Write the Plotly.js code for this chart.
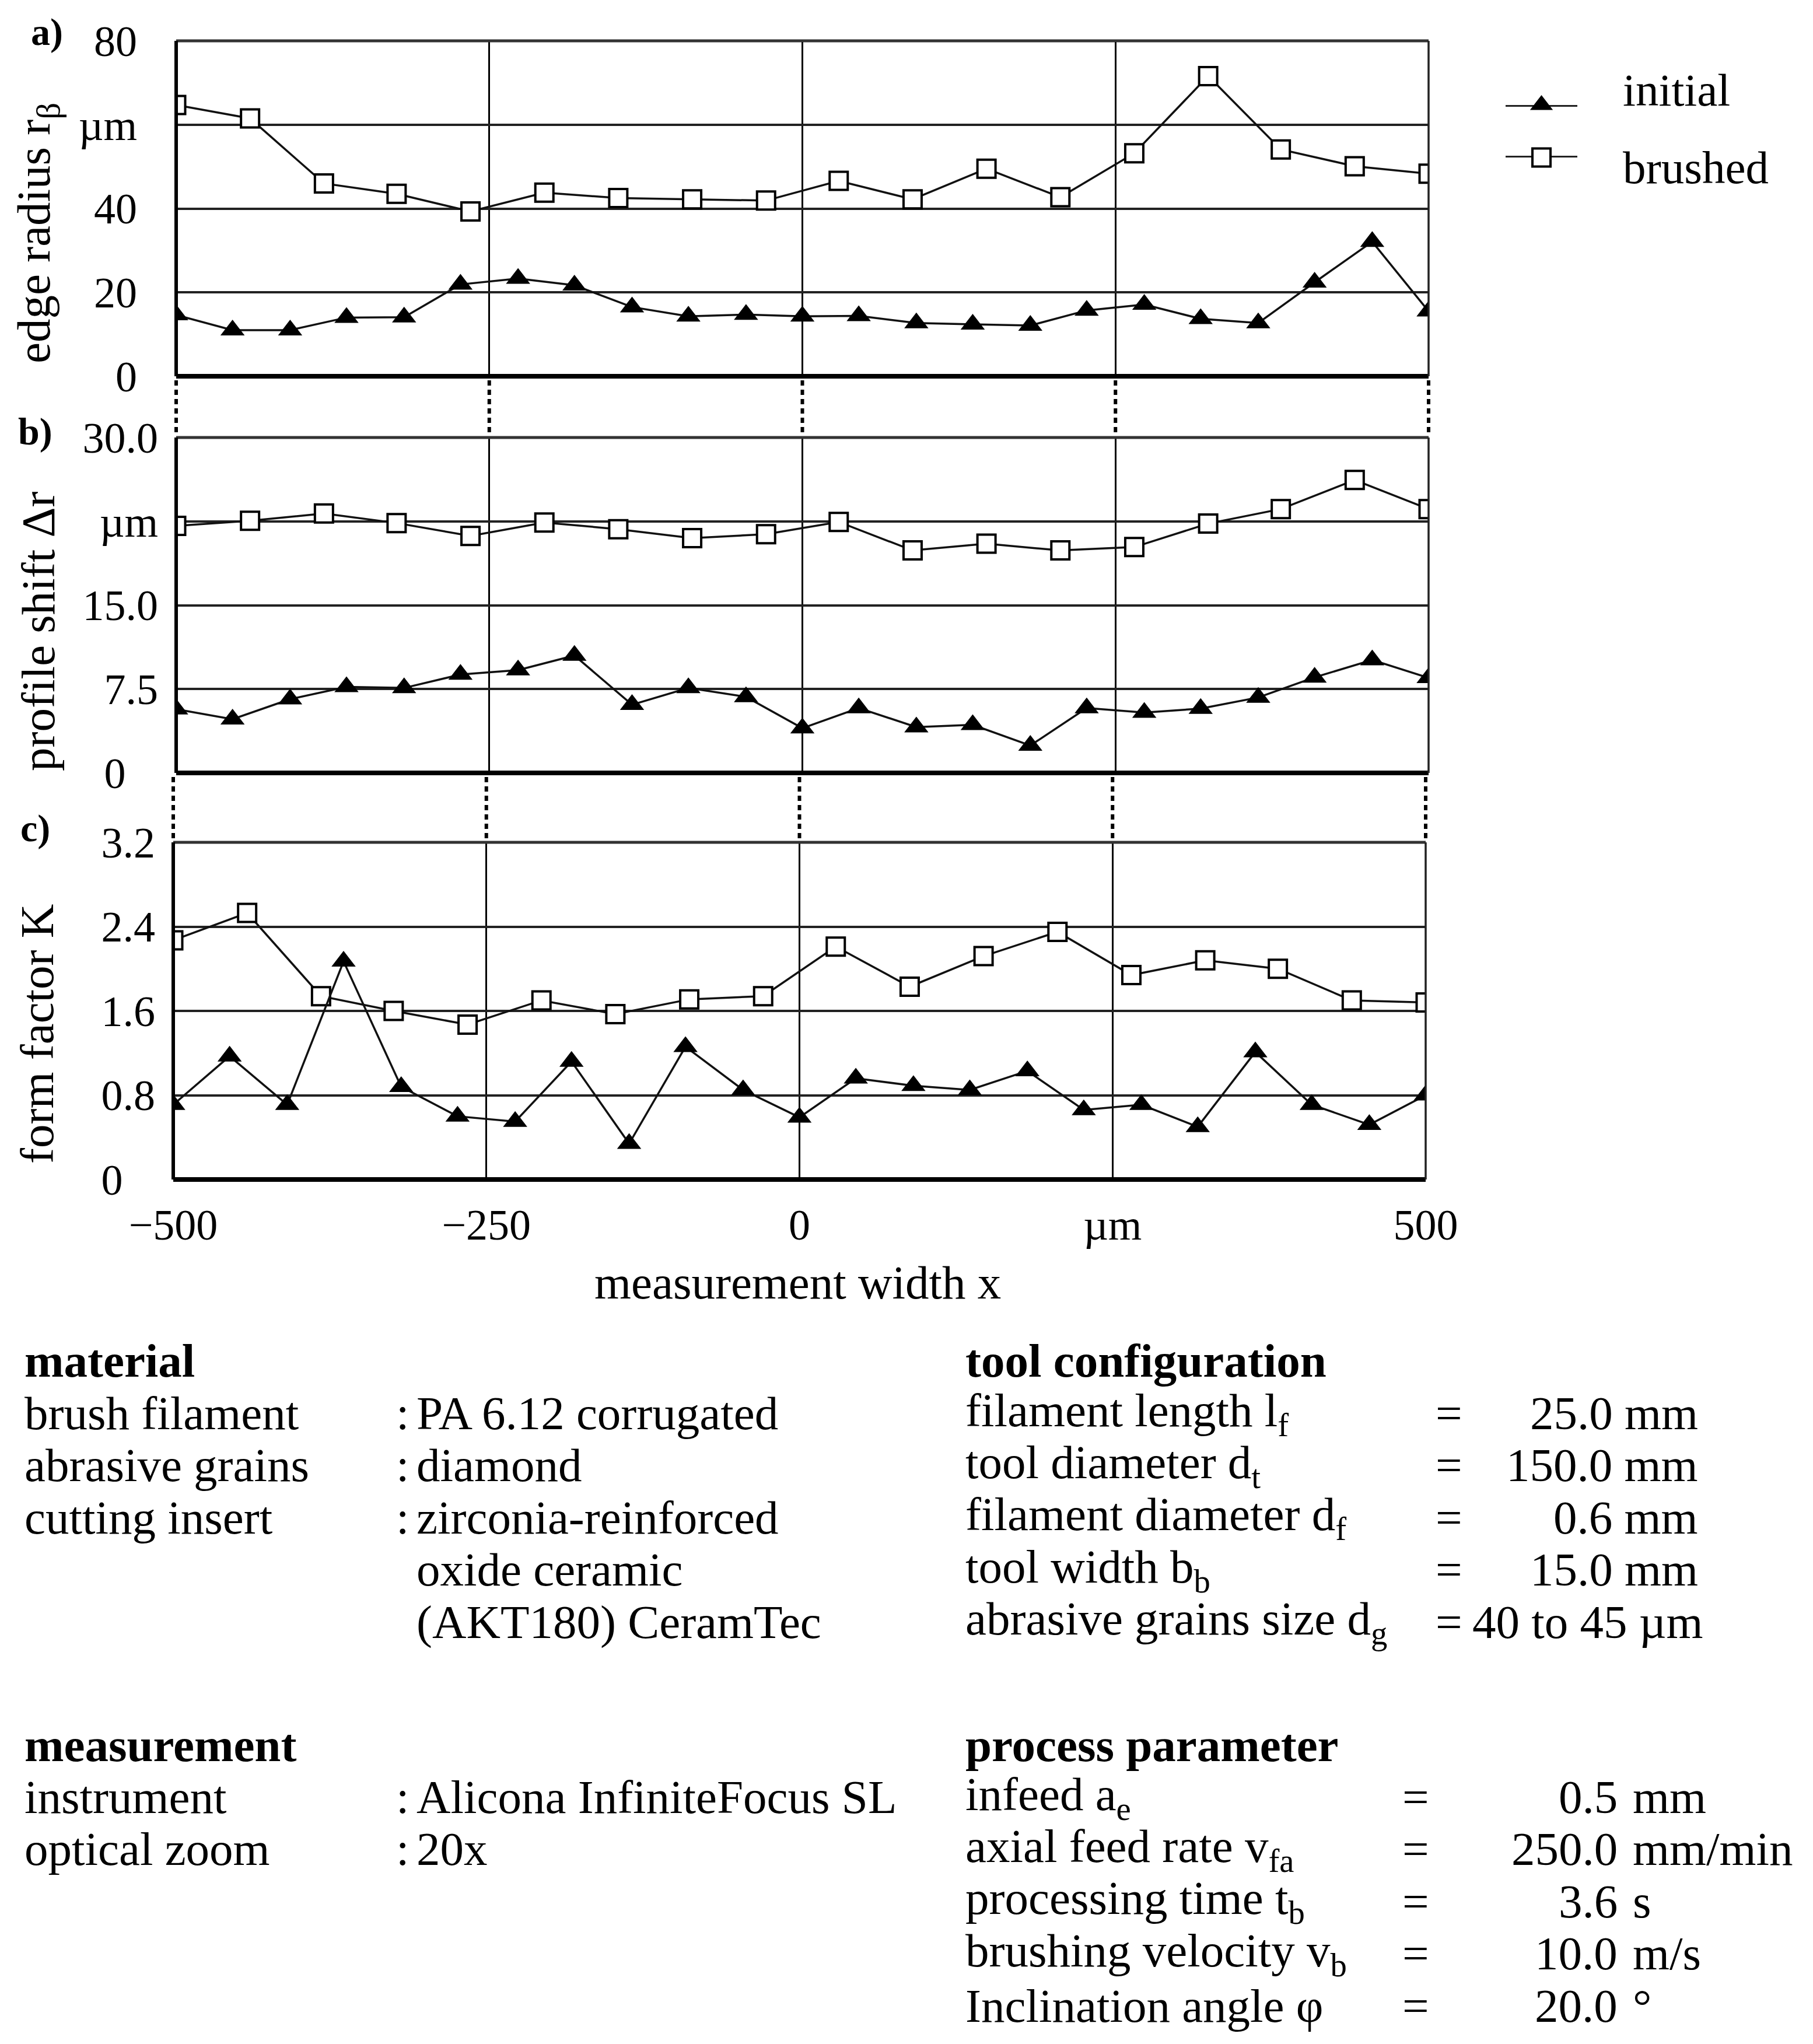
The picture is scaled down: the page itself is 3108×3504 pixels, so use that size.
<!DOCTYPE html>
<html>
<head>
<meta charset="utf-8">
<script src="https://cdn.plot.ly/plotly-3.0.1.min.js"></script>
<style>
  html, body { margin: 0; padding: 0; background: #fff; }
  #chart { width: 3108px; height: 3504px; }
</style>
</head>
<body>
<div id="chart"></div>
<script>
const xInitial = [-500, -455, -409, -364, -318, -273, -227, -182, -136, -91, -45, 0, 45, 91, 136, 182, 227, 273, 318, 364, 409, 455, 500];
const xBrushed = [-500, -441, -382, -324, -265, -206, -147, -88, -29, 29, 88, 147, 206, 265, 324, 382, 441, 500];

// a) edge radius r_beta (µm)
const edgeInitial = [14.6, 11.0, 11.0, 14.0, 14.1, 21.9, 23.3, 21.7, 16.5, 14.3, 14.7, 14.3, 14.4, 12.7, 12.4, 12.1, 15.7, 17.1, 13.7, 12.7, 22.4, 32.1, 15.5];
const edgeBrushed = [64.7, 61.5, 46.0, 43.5, 39.3, 43.8, 42.5, 42.2, 41.9, 46.6, 42.2, 49.5, 42.7, 53.2, 71.6, 54.1, 50.1, 48.3];

// b) profile shift delta r (µm)
const shiftInitial = [5.7, 4.8, 6.6, 7.7, 7.6, 8.8, 9.2, 10.5, 6.1, 7.6, 6.8, 4.0, 5.8, 4.1, 4.3, 2.45, 5.8, 5.4, 5.75, 6.75, 8.55, 10.1, 8.5];
const shiftBrushed = [22.1, 22.55, 23.2, 22.35, 21.2, 22.4, 21.8, 21.0, 21.35, 22.45, 19.9, 20.5, 19.9, 20.2, 22.3, 23.6, 26.2, 23.6];

// c) form factor K
const formInitial = [0.71, 1.17, 0.71, 2.07, 0.88, 0.60, 0.55, 1.12, 0.34, 1.26, 0.85, 0.59, 0.96, 0.89, 0.85, 1.03, 0.66, 0.71, 0.50, 1.21, 0.71, 0.52, 0.80];
const formBrushed = [2.27, 2.53, 1.74, 1.60, 1.47, 1.70, 1.57, 1.71, 1.74, 2.21, 1.83, 2.12, 2.35, 1.94, 2.08, 2.00, 1.70, 1.68];

// axis ticks
const xTickVals = [-500, -250, 0, 250, 500];
const xTickText = ["\u2212500", "\u2212250", "0", "µm", "500"];
const edgeTickVals = [0, 20, 40, 60, 80];
const edgeTickText = ["0", "20", "40", "µm", "80"];
const shiftTickVals = [0, 7.5, 15, 22.5, 30];
const shiftTickText = ["0\u00a0\u00a0\u00a0", "7.5", "15.0", "µm", "30.0"];
const formTickVals = [0, 0.8, 1.6, 2.4, 3.2];
const formTickText = ["0\u00a0\u00a0\u00a0", "0.8", "1.6", "2.4", "3.2"];

const panelLabels = ["a)", "b)", "c)"];
const yTitles = ["edge radius r<sub>β</sub>", "profile shift Δr", "form factor K"];
const seriesNames = ["initial", "brushed"];

// parameter tables
const materialLabels = ["brush filament", "abrasive grains", "cutting insert", "", ""];
const materialValues = ["PA 6.12 corrugated", "diamond", "zirconia-reinforced", "oxide ceramic", "(AKT180) CeramTec"];
const toolLabels = ["filament length l<sub>f</sub>", "tool diameter d<sub>t</sub>", "filament diameter d<sub>f</sub>", "tool width b<sub>b</sub>", "abrasive grains size d<sub>g</sub>"];
const toolValues = ["25.0 mm", "150.0 mm", "0.6 mm", "15.0 mm", "40 to 45 µm"];
const measLabels = ["instrument", "optical zoom"];
const measValues = ["Alicona InfiniteFocus SL", "20x"];
const procLabels = ["infeed a<sub>e</sub>", "axial feed rate v<sub>fa</sub>", "processing time t<sub>b</sub>", "brushing velocity v<sub>b</sub>", "Inclination angle φ"];
const procNumbers = ["0.5", "250.0", "3.6", "10.0", "20.0"];
const procUnits = ["mm", "mm/min", "s", "m/s", "°"];

// ---- layout helpers (pixel -> paper) ----
const W = 3108, H = 3504;
const px = v => v / W;
const py = v => 1 - v / H;
const FONT = "'Liberation Serif', 'DejaVu Serif', serif";
const X_RANGE = [-500, 500];

const panels = [
  { xa: "x", ya: "y", left: 302, right: 2449, top: 70, bottom: 645, init: edgeInitial, brush: edgeBrushed,
    range: [0, 80], tv: edgeTickVals, tt: edgeTickText, standoff: 66, labelPos: [80, 55], titlePos: [64, 400] },
  { xa: "x2", ya: "y2", left: 302, right: 2449, top: 750, bottom: 1325, init: shiftInitial, brush: shiftBrushed,
    range: [0, 30], tv: shiftTickVals, tt: shiftTickText, standoff: 30, labelPos: [60, 740], titlePos: [66, 1082] },
  { xa: "x3", ya: "y3", left: 297, right: 2444, top: 1444, bottom: 2022, init: formInitial, brush: formBrushed,
    range: [0, 3.2], tv: formTickVals, tt: formTickText, standoff: 30, labelPos: [60, 1420], titlePos: [64, 1773] }
];

const traces = [];
const layout = {
  width: W, height: H,
  margin: { l: 0, r: 0, t: 0, b: 0 },
  paper_bgcolor: "#fff", plot_bgcolor: "#fff",
  showlegend: false,
  font: { family: FONT, color: "#000", size: 78 },
  shapes: [], annotations: []
};

panels.forEach((p, i) => {
  const n = i === 0 ? "" : String(i + 1);
  layout["xaxis" + n] = {
    domain: [px(p.left), px(p.right)], anchor: p.ya, range: X_RANGE,
    tickmode: "array", tickvals: xTickVals, ticktext: xTickText,
    showgrid: true, gridcolor: "#000", gridwidth: 3, zeroline: false, showline: false,
    ticks: "", ticklen: 0, showticklabels: i === 2, ticklabelstandoff: 28,
    tickfont: { family: FONT, size: 74, color: "#000" }, fixedrange: true
  };
  layout["yaxis" + n] = {
    domain: [py(p.bottom), py(p.top)], anchor: p.xa, range: p.range,
    tickmode: "array", tickvals: p.tv, ticktext: p.tt,
    showgrid: true, gridcolor: "#222", gridwidth: 4, zeroline: false, showline: false,
    ticks: "", ticklen: 0, ticklabelstandoff: p.standoff,
    tickfont: { family: FONT, size: 74, color: "#000" }, fixedrange: true
  };

  traces.push({
    x: xBrushed, y: p.brush, xaxis: p.xa, yaxis: p.ya, name: seriesNames[1],
    mode: "lines+markers", line: { color: "#111", width: 3.5 },
    marker: { symbol: "square", size: 31, color: "#fff", line: { color: "#000", width: 4 } }
  });
  traces.push({
    x: xInitial, y: p.init, xaxis: p.xa, yaxis: p.ya, name: seriesNames[0],
    mode: "lines+markers", line: { color: "#111", width: 3.5 },
    marker: { symbol: "triangle-up", size: 36, color: "#000", line: { width: 0 } }
  });

  // frame: heavy left/bottom, lighter top/right
  const dx = p.xa + " domain", dy = p.ya + " domain";
  layout.shapes.push(
    { type: "line", xref: dx, yref: dy, x0: 0, x1: 1, y0: 1, y1: 1, line: { color: "#333", width: 5 } },
    { type: "line", xref: dx, yref: dy, x0: 0, x1: 1, y0: 0, y1: 0, line: { color: "#000", width: 8 } },
    { type: "line", xref: dx, yref: dy, x0: 0, x1: 0, y0: 0, y1: 1, line: { color: "#000", width: 6 } },
    { type: "line", xref: dx, yref: dy, x0: 1, x1: 1, y0: 0, y1: 1, line: { color: "#222", width: 3.5 } }
  );

  layout.annotations.push({
    xref: "paper", yref: "paper", x: px(p.labelPos[0]), y: py(p.labelPos[1]),
    xanchor: "center", yanchor: "middle", showarrow: false,
    text: "<b>" + panelLabels[i] + "</b>", font: { family: FONT, size: 66 }
  });
  layout.annotations.push({
    xref: "paper", yref: "paper", x: px(p.titlePos[0]), y: py(p.titlePos[1]),
    xanchor: "center", yanchor: "middle", showarrow: false, textangle: -90,
    text: yTitles[i], font: { family: FONT, size: 81 }
  });
});

// dotted connectors between the panels, placed in paper space so they are not clipped
const gaps = [[652, 745], [1332, 1440]];
gaps.forEach((g, k) => {
  const p = panels[k + 1];
  xTickVals.forEach(v => {
    const xp = p.left + (v - X_RANGE[0]) / (X_RANGE[1] - X_RANGE[0]) * (p.right - p.left);
    layout.shapes.push({
      type: "line", xref: "paper", yref: "paper", x0: px(xp), x1: px(xp), y0: py(g[0]), y1: py(g[1]),
      line: { color: "#000", width: 6, dash: "9px,7px" }
    });
  });
});

// x-axis title
layout.annotations.push({
  xref: "paper", yref: "paper", x: px(1367), y: py(2199), xanchor: "center", yanchor: "middle",
  showarrow: false, text: "measurement width x", font: { family: FONT, size: 81 }
});

// legend built on its own small axes so the keys keep full marker size
const legendY = [1, 0];
const legendSymbols = ["triangle-up", "square"];
layout.xaxis4 = { domain: [px(2581), px(2704)], anchor: "y4", range: [0, 1], visible: false, fixedrange: true };
layout.yaxis4 = { domain: [py(270), py(180)], anchor: "x4", range: [0, 1], visible: false, fixedrange: true };
seriesNames.forEach((name, i) => {
  traces.push({
    x: [0, 1], y: [legendY[i], legendY[i]], xaxis: "x4", yaxis: "y4", mode: "lines",
    line: { color: "#222", width: 6 }, cliponaxis: false, hoverinfo: "skip"
  });
  traces.push({
    x: [0.5], y: [legendY[i]], xaxis: "x4", yaxis: "y4", mode: "markers", cliponaxis: false,
    marker: i === 0
      ? { symbol: legendSymbols[i], size: 34, color: "#000" }
      : { symbol: legendSymbols[i], size: 31, color: "#fff", line: { color: "#000", width: 4 } },
    hoverinfo: "skip"
  });
});
const legendTextY = [154, 287];
seriesNames.forEach((name, i) => {
  layout.annotations.push({
    xref: "paper", yref: "paper", x: px(2780), y: py(legendTextY[i]), xanchor: "left", yanchor: "middle",
    showarrow: false, text: name, font: { family: FONT, size: 79 }
  });
});

// ---- parameter tables ----
function txt(x, y, text, anchor, bold) {
  layout.annotations.push({
    xref: "paper", yref: "paper", x: px(x), y: py(y), xanchor: anchor, yanchor: "middle",
    showarrow: false, text: bold ? "<b>" + text + "</b>" : text, font: { family: FONT, size: 81 }
  });
}
const ROW = 89.4;

txt(40, 2333, "material", "left", true);
materialLabels.forEach((lab, i) => {
  const y = 2423 + i * ROW;
  if (lab) { txt(40, y, lab, "left"); txt(677, y, ":", "left"); }
  txt(712, y, materialValues[i], "left");
});

txt(1653, 2333, "tool configuration", "left", true);
const lastTool = toolLabels.length - 1;
toolLabels.forEach((lab, i) => {
  const y = 2423 + i * ROW;
  txt(1653, y, lab, "left");
  txt(2484, y, "=", "center");
  // the grain-size range sits right after its "=" sign, the other values are right aligned
  if (i === lastTool) txt(2522, y, toolValues[i], "left");
  else txt(2913, y, toolValues[i], "right");
});

txt(40, 2992, "measurement", "left", true);
measLabels.forEach((lab, i) => {
  const y = 3081 + i * ROW;
  txt(40, y, lab, "left");
  txt(677, y, ":", "left");
  txt(712, y, measValues[i], "left");
});

txt(1653, 2992, "process parameter", "left", true);
procLabels.forEach((lab, i) => {
  const y = 3081 + i * ROW;
  txt(1653, y, lab, "left");
  txt(2427, y, "=", "center");
  txt(2775, y, procNumbers[i], "right");
  txt(2797, y, procUnits[i], "left");
});

Plotly.newPlot("chart", traces, layout, { staticPlot: true, displayModeBar: false });
</script>
</body>
</html>
